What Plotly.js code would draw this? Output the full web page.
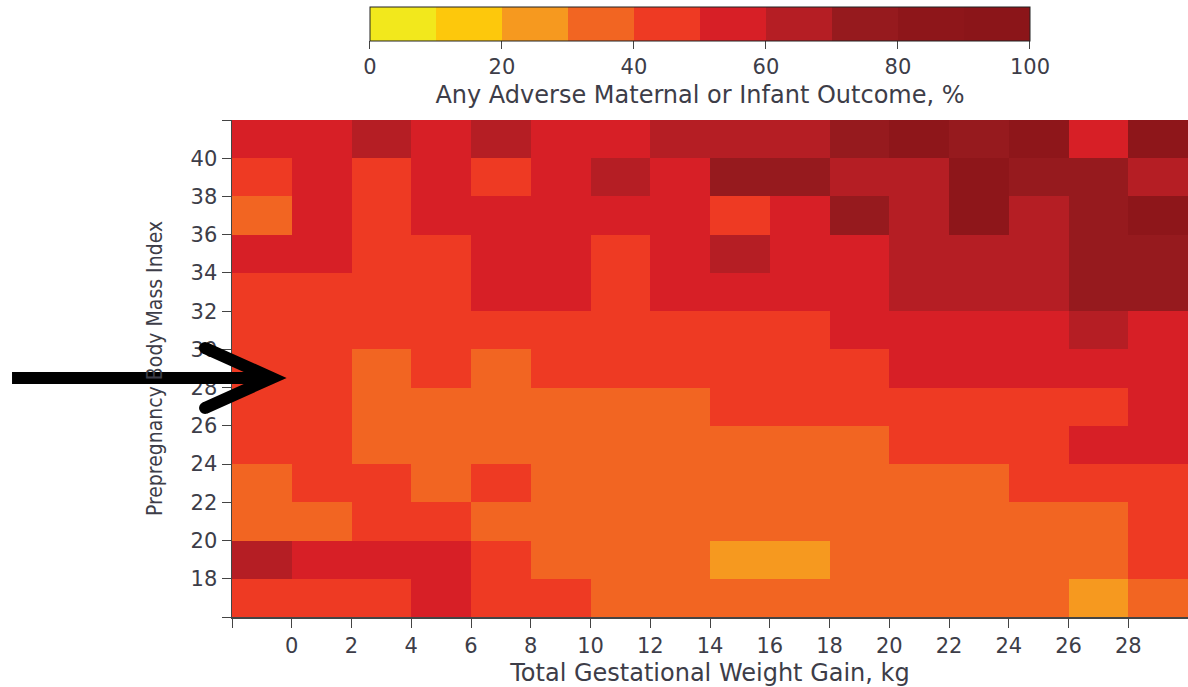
<!DOCTYPE html>
<html>
<head>
<meta charset="utf-8">
<script src="https://cdn.plot.ly/plotly-3.0.1.min.js"></script>
<style>html,body{margin:0;padding:0;background:#fff;}#chart{width:1188px;height:687px;}</style>
</head>
<body>
<div id="chart"></div>
<script>
// Column centres: total gestational weight gain bins (kg)
const weightGain = [-1, 1, 3, 5, 7, 9, 11, 13, 15, 17, 19, 21, 23, 25, 27, 29];
// Row centres: prepregnancy BMI bins
const bmi = [17, 19, 21, 23, 25, 27, 29, 31, 33, 35, 37, 39, 41];
// Percent with any adverse outcome (estimated from colour class), rows bottom -> top
const row17 = [45, 45, 45, 55, 45, 45, 35, 35, 35, 35, 35, 35, 35, 35, 25, 35];
const row19 = [65, 55, 55, 55, 45, 35, 35, 35, 25, 25, 35, 35, 35, 35, 35, 45];
const row21 = [35, 35, 45, 45, 35, 35, 35, 35, 35, 35, 35, 35, 35, 35, 35, 45];
const row23 = [35, 45, 45, 35, 45, 35, 35, 35, 35, 35, 35, 35, 35, 45, 45, 45];
const row25 = [45, 45, 35, 35, 35, 35, 35, 35, 35, 35, 35, 45, 45, 45, 55, 55];
const row27 = [45, 45, 35, 35, 35, 35, 35, 35, 45, 45, 45, 45, 45, 45, 45, 55];
const row29 = [45, 45, 35, 45, 35, 45, 45, 45, 45, 45, 45, 55, 55, 55, 55, 55];
const row31 = [45, 45, 45, 45, 45, 45, 45, 45, 45, 45, 55, 55, 55, 55, 65, 55];
const row33 = [45, 45, 45, 45, 55, 55, 45, 55, 55, 55, 55, 65, 65, 65, 75, 75];
const row35 = [55, 55, 45, 45, 55, 55, 45, 55, 65, 55, 55, 65, 65, 65, 75, 75];
const row37 = [35, 55, 45, 55, 55, 55, 55, 55, 45, 55, 75, 65, 85, 65, 75, 85];
const row39 = [45, 55, 45, 55, 45, 55, 65, 55, 75, 75, 65, 65, 85, 75, 75, 65];
const row41 = [55, 55, 65, 55, 65, 55, 55, 65, 65, 65, 75, 85, 75, 85, 55, 85];
const outcomePct = [row17, row19, row21, row23, row25, row27, row29, row31, row33, row35, row37, row39, row41];

// Tick labels
const xTickVals = [-2, 0, 2, 4, 6, 8, 10, 12, 14, 16, 18, 20, 22, 24, 26, 28, 30];
const xTickText = ['', '0', '2', '4', '6', '8', '10', '12', '14', '16', '18', '20', '22', '24', '26', '28', ''];
const yTickVals = [16, 18, 20, 22, 24, 26, 28, 30, 32, 34, 36, 38, 40, 42];
const yTickText = ['', '18', '20', '22', '24', '26', '28', '30', '32', '34', '36', '38', '40', ''];
const cbTickVals = [0, 20, 40, 60, 80, 100];

// Discrete colour classes, one per 10 %
const classColors = ['#f2e81c', '#fdc80c', '#f6991f', '#f26522', '#ee3a23',
                     '#d71f26', '#b51e24', '#961a1e', '#8e161a', '#8b1519'];
const colorscale = [];
classColors.forEach((c, i) => {
  colorscale.push([i / classColors.length, c]);
  colorscale.push([(i + 1) / classColors.length, c]);
});

const textColor = '#3d3d48';
const fontFam = 'DejaVu Sans, Open Sans, sans-serif';
const condFam = 'DejaVu Sans Condensed, Liberation Sans Narrow, Roboto, sans-serif';

const trace = {
  type: 'heatmap',
  x: weightGain,
  y: bmi,
  z: outcomePct,
  zmin: 0,
  zmax: 100,
  colorscale: colorscale,
  colorbar: {
    orientation: 'h',
    x: 0.4895,
    xanchor: 'center',
    y: 1.2274,
    yanchor: 'top',
    len: 0.69,
    lenmode: 'fraction',
    thickness: 34,
    thicknessmode: 'pixels',
    outlinecolor: '#222',
    outlinewidth: 1,
    tickvals: cbTickVals,
    ticks: 'outside',
    ticklen: 8,
    tickcolor: '#444',
    tickfont: {family: fontFam, size: 21, color: textColor},
    title: {
      text: 'Any Adverse Maternal or Infant Outcome, %',
      side: 'bottom',
      font: {family: fontFam, size: 24, color: textColor}
    },
    xpad: 0,
    ypad: 0
  }
};

const layout = {
  width: 1188,
  height: 687,
  margin: {l: 232, r: 0, t: 120, b: 70},
  paper_bgcolor: '#fff',
  plot_bgcolor: '#fff',
  xaxis: {
    range: [-2, 30],
    tickvals: xTickVals,
    ticktext: xTickText,
    ticks: 'outside',
    ticklen: 9,
    tickcolor: '#444',
    showline: true,
    linecolor: '#444',
    linewidth: 1.5,
    showgrid: false,
    zeroline: false,
    tickfont: {family: fontFam, size: 21, color: textColor},
    title: {
      text: 'Total Gestational Weight Gain, kg',
      standoff: 12,
      font: {family: fontFam, size: 24, color: textColor}
    }
  },
  yaxis: {
    range: [16, 42],
    tickvals: yTickVals,
    ticktext: yTickText,
    ticks: 'outside',
    ticklen: 9,
    tickcolor: '#444',
    showline: true,
    linecolor: '#444',
    linewidth: 1.5,
    showgrid: false,
    zeroline: false,
    tickfont: {family: fontFam, size: 21, color: textColor},
    title: {
      text: 'Prepregnancy Body Mass Index',
      standoff: 22,
      font: {family: condFam, size: 21, color: textColor}
    }
  },
  shapes: [
    {type: 'line', xref: 'paper', yref: 'paper', x0: -0.2301, x1: 0.0397, y0: 0.481, y1: 0.481,
     line: {color: '#000', width: 12}},
    {type: 'path', xref: 'paper', yref: 'paper',
     path: 'M -0.0282,0.5412 L 0.0418,0.481 L -0.0282,0.4205',
     line: {color: '#000', width: 12}},
    {type: 'circle', xref: 'paper', yref: 'paper', xsizemode: 'pixel', ysizemode: 'pixel',
     xanchor: -0.0282, yanchor: 0.5412, x0: -6, x1: 6, y0: -6, y1: 6,
     fillcolor: '#000', line: {width: 0}},
    {type: 'circle', xref: 'paper', yref: 'paper', xsizemode: 'pixel', ysizemode: 'pixel',
     xanchor: -0.0282, yanchor: 0.4205, x0: -6, x1: 6, y0: -6, y1: 6,
     fillcolor: '#000', line: {width: 0}}
  ],
  showlegend: false
};

Plotly.newPlot('chart', [trace], layout, {displayModeBar: false, staticPlot: true});
</script>
</body>
</html>
